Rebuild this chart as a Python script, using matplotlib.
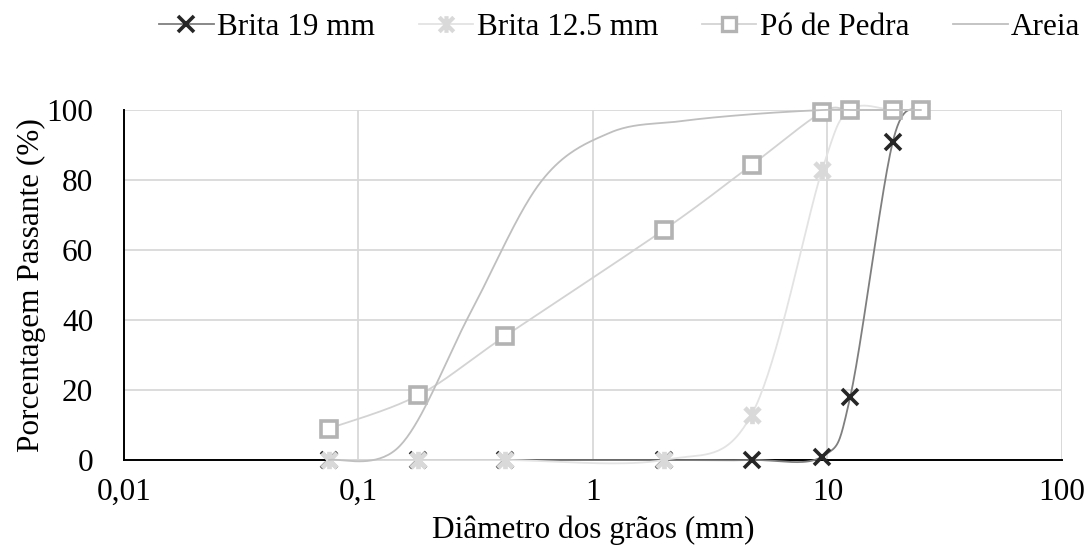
import numpy as np
import matplotlib
matplotlib.use('Agg')
import matplotlib.pyplot as plt
from matplotlib.path import Path
from matplotlib.ticker import FixedLocator, FixedFormatter, NullLocator

plt.rcParams['font.family'] = 'serif'
plt.rcParams['font.serif'] = ['Liberation Serif', 'Times New Roman', 'DejaVu Serif']
plt.rcParams['font.size'] = 22.5

# sieve openings (mm) and percent passing
sieves = [0.075, 0.18, 0.42, 2.0, 4.75, 9.5, 12.5, 19.0, 25.0]
brita19 = [0, 0, 0, 0, 0, 1, 18, 91, 100]
brita125 = [0, 0, 0, 0, 13, 83, 100, 100, 100]
po_pedra = [9, 18.5, 35.3, 65.7, 84.3, 99.4, 100, 100, 100]

areia_sieves = [0.075, 0.15, 0.3, 0.6, 1.18, 2.36, 4.75, 9.5, 12.5, 19.0, 25.0]
areia = [0, 4, 42, 79.5, 93.5, 96.8, 98.8, 100, 100, 100, 100]

xticks = [0.01, 0.1, 1, 10, 100]
xtick_labels = ['0,01', '0,1', '1', '10', '100']
yticks = [0, 20, 40, 60, 80, 100]


def smooth(x, y, n=40):
    # Excel-like smoothed line: Catmull-Rom in screen-ish space (log x)
    u = np.log10(np.asarray(x, float)) * 67.0
    v = np.asarray(y, float)
    P = np.column_stack([u, v])
    P = np.vstack([P[0], P, P[-1]])
    out = []
    t = np.linspace(0, 1, n)[:, None]
    for i in range(1, len(P) - 2):
        p0, p1, p2, p3 = P[i - 1], P[i], P[i + 1], P[i + 2]
        c1 = p1 + (p2 - p0) / 6.0
        c2 = p2 - (p3 - p1) / 6.0
        seg = ((1 - t) ** 3) * p1 + 3 * ((1 - t) ** 2) * t * c1 + 3 * (1 - t) * t ** 2 * c2 + t ** 3 * p2
        out.append(seg if i == 1 else seg[1:])
    out = np.vstack(out)
    return 10 ** (out[:, 0] / 67.0), out[:, 1]


asterisk = Path([(-1, -1), (1, 1), (-1, 1), (1, -1), (0, -1.15), (0, 1.15)],
                [Path.MOVETO, Path.LINETO, Path.MOVETO, Path.LINETO, Path.MOVETO, Path.LINETO])

fig = plt.figure(figsize=(10.87, 5.46), dpi=100)
ax = fig.add_axes([0.114, 0.1575, 0.863, 0.641])

ax.set_xscale('log')
ax.set_xlim(0.01, 100)
ax.set_ylim(0, 100)

grid_c = '#d9d9d9'
ax.xaxis.set_major_locator(FixedLocator(xticks))
ax.xaxis.set_major_formatter(FixedFormatter(xtick_labels))
ax.xaxis.set_minor_locator(NullLocator())
ax.set_yticks(yticks)
ax.grid(True, color=grid_c, linewidth=1.3, zorder=0)
ax.set_axisbelow(True)
ax.tick_params(axis='both', length=0)
ax.tick_params(axis='x', pad=13)
ax.tick_params(axis='y', pad=22)

for s in ['top', 'right']:
    ax.spines[s].set_visible(False)
for s in ['left', 'bottom']:
    ax.spines[s].set_color('black')
    ax.spines[s].set_linewidth(1.4)
    ax.spines[s].set_zorder(2.5)
ax.axvline(100, color=grid_c, linewidth=1.3, zorder=0.5)

# Brita 19 mm
sx, sy = smooth(sieves, brita19)
ax.plot(sx, sy, color='#7f7f7f', linewidth=1.3, zorder=3, clip_on=False)
ax.plot(sieves, brita19, linestyle='none', marker='x', markersize=12, markeredgewidth=2.6,
        color='#262626', zorder=3.1, clip_on=False)

# Brita 12.5 mm
sx, sy = smooth(sieves, brita125)
ax.plot(sx, sy, color='#e3e3e3', linewidth=1.3, zorder=4, clip_on=False)
ax.plot(sieves, brita125, linestyle='none', marker=asterisk, markersize=12.5, markeredgewidth=3.4,
        color='#d9d9d9', zorder=4.1, clip_on=False)

# Pó de Pedra
sx, sy = smooth(sieves, po_pedra)
ax.plot(sx, sy, color='#d3d3d3', linewidth=1.3, zorder=5, clip_on=False)
ax.plot(sieves, po_pedra, linestyle='none', marker='s', markersize=12, markeredgewidth=2.6,
        markerfacecolor='white', markeredgecolor='#b3b3b3', zorder=5.1, clip_on=False)

# Areia
sx, sy = smooth(areia_sieves, areia)
ax.plot(sx, sy, color='#bfbfbf', linewidth=1.3, zorder=6, clip_on=False)

ax.set_xlabel('Diâmetro dos grãos (mm)', labelpad=6)
ax.set_ylabel('Porcentagem Passante (%)', labelpad=0)

h1, = ax.plot([], [], color='#7f7f7f', linewidth=1.3, marker='x', markersize=12,
              markeredgewidth=2.6, markeredgecolor='#262626')
h2, = ax.plot([], [], color='#e3e3e3', linewidth=1.3, marker=asterisk, markersize=12,
              markeredgewidth=3.0, markeredgecolor='#d9d9d9')
h3, = ax.plot([], [], color='#d3d3d3', linewidth=1.3, marker='s', markersize=10,
              markeredgewidth=2.4, markerfacecolor='white', markeredgecolor='#b3b3b3')
h4, = ax.plot([], [], color='#bfbfbf', linewidth=1.3)
fig.legend([h1, h2, h3, h4], ['Brita 19 mm', 'Brita 12.5 mm', 'Pó de Pedra', 'Areia'],
           loc='center', bbox_to_anchor=(0.570, 0.950), ncol=4, frameon=False,
           handlelength=1.75, handletextpad=0.1, columnspacing=1.4, borderpad=0)

fig.savefig('out.png', dpi=100, facecolor='white')
